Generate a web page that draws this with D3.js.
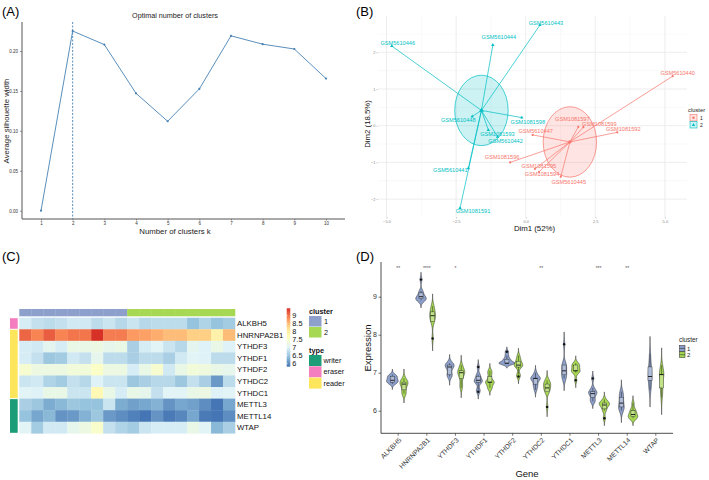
<!DOCTYPE html>
<html><head><meta charset="utf-8">
<script src="https://cdn.jsdelivr.net/npm/d3@7"></script>
<style>body{margin:0;background:#fff} svg{display:block;font-family:"Liberation Sans",Arial,sans-serif}</style>
</head><body>
<svg id="c" width="709" height="480"></svg>
<script>
// ---------- Panel A data ----------
const kValues = [1,2,3,4,5,6,7,8,9,10];
const silhouette = [0, 0.225, 0.208, 0.147, 0.112, 0.1525, 0.219, 0.2085, 0.2025, 0.1655];
const optimalK = 2;
const silTicks = [0, 0.05, 0.10, 0.15, 0.20];

// ---------- Panel B data ----------
const samples = ["GSM5610446","GSM5610444","GSM5610443","GSM5610448","GSM1081598","GSM1081593","GSM5610442","GSM5610441","GSM1081591",
                 "GSM5610440","GSM1081597","GSM1081599","GSM1081592","GSM5610447","GSM1081596","GSM1081595","GSM1081594","GSM5610445"];
const sampleCluster = [2,2,2,2,2,2,2,2,2, 1,1,1,1,1,1,1,1,1];
const dim1 = [-4.81,-1.18,0.51,-1.92,-0.14,-1.34,-1.01,-2.06,-2.36, 5.28,1.89,2.07,3.29,0.25,-0.56,0.33,0.48,1.26];
const dim2 = [2.17,2.20,2.74,0.25,0.22,-0.12,-0.30,-1.16,-2.25, 1.35,-0.03,-0.04,-0.18,-0.25,-1.0,-1.18,-1.26,-1.39];
const dimTicksX = [-5, -2.5, 0, 2.5, 5];
const dimTicksY = [-2, -1, 0, 1, 2];
const ellipseRadius = 0.96;
// label nudges (px) from ggrepel layout
const labelDx = [6,6,6,-14,6,9,8,-18,13, 5,-6,16,6,3,-8,4,3,8];
const labelDy = [-3,-8,-2,4,4,4,4,2,3, -3,-8,-3,-3,-3.5,-5,-3,2,5];

// ---------- Panel C / D data ----------
const genes = ["ALKBH5","HNRNPA2B1","YTHDF3","YTHDF1","YTHDF2","YTHDC2","YTHDC1","METTL3","METTL14","WTAP"];
const geneType = ["eraser","reader","reader","reader","reader","reader","reader","writer","writer","writer"];
const columnCluster = [1,1,1,1,1,1,1,1,1, 2,2,2,2,2,2,2,2,2];
const ALKBH5    = [6.95,6.8,6.75,6.8,6.9,6.9,6.75,6.85,6.7, 6.85,6.7,6.75,6.75,6.75,6.45,6.65,6.45,6.55];
const HNRNPA2B1 = [9.1,8.9,9.15,8.9,9.0,9.0,9.45,8.95,8.95, 8.75,8.7,8.6,8.5,8.5,8.35,8.35,7.9,8.5];
const YTHDF3    = [6.95,6.9,7.1,6.95,7.2,7.2,7.25,7.15,7.2, 6.6,6.95,7.05,6.85,6.7,7.1,7.0,7.2,7.0];
const YTHDF1    = [6.95,6.8,6.5,6.55,6.9,6.8,7.15,6.75,6.75, 6.6,6.75,6.75,6.6,6.9,7.05,7.0,6.75,6.75];
const YTHDF2    = [7.45,7.25,7.25,7.25,7.35,7.35,7.55,7.25,7.25, 6.95,7.2,7.45,6.9,7.2,7.35,7.3,7.2,7.15];
const YTHDC2    = [6.85,6.9,6.65,6.55,6.8,6.7,7.0,6.85,6.85, 6.5,6.6,6.7,6.7,6.5,6.8,6.6,6.1,6.75];
const YTHDC1    = [7.05,7.0,7.2,7.2,6.85,6.85,7.75,7.2,6.95, 7.2,7.15,6.8,7.05,7.05,7.2,7.25,7.0,7.05];
const METTL3    = [6.6,6.5,6.25,6.35,6.5,6.45,6.45,6.85,6.25, 6.15,6.2,6.3,6.05,6.2,6.15,6.0,5.8,6.2];
const METTL14   = [6.45,6.2,6.35,6.05,6.1,6.3,6.5,6.1,6.0, 5.9,5.8,6.05,5.85,5.95,6.2,5.85,5.8,6.0];
const WTAP      = [7.05,6.55,6.9,6.9,7.15,7.25,7.5,6.8,6.65, 6.55,6.85,6.95,6.95,6.95,7.2,7.05,6.35,6.6];
const legendTicks = [6, 6.5, 7, 7.5, 8, 8.5, 9];
const exprTicks = [6, 7, 8, 9];
const sigLabels = ["**","****","*","","","**","","***","**",""];
const sigY = 9.76;

// ---------- styles ----------
const steel = "#4682B4";
const bClusterColor = {1:"#F8766D", 2:"#00BFC4"};
const hClusterColor = {1:"#8DA0CB", 2:"#A6D854"};
const typeColor = {writer:"#1B9E77", eraser:"#F37DBE", reader:"#FEE65C"};
const rdylbu = ["#4575B4","#91BFDB","#E0F3F8","#FFFFBF","#FEE090","#FC8D59","#D73027"];

const svg = d3.select("#c");
function text(g, x, y, s, size, o={}) {
  const t = g.append("text").attr("x", x).attr("y", y).text(s).attr("font-size", size)
    .attr("fill", o.fill || "#000").attr("text-anchor", o.anchor || "start");
  if (o.dy) t.attr("dy", o.dy);
  if (o.weight) t.attr("font-weight", o.weight);
  if (o.transform) t.attr("transform", o.transform);
  return t;
}

// ================= Panel A =================
{
  const g = svg.append("g");
  text(g, 2, 16, "(A)", 13);
  const x = d3.scaleLinear().domain([1,10]).range([41,326]);
  const y = d3.scaleLinear().domain([0,0.2]).range([210.7,51]);
  const xa = g.append("g").attr("transform","translate(0,219)")
    .call(d3.axisBottom(x).tickValues(kValues).tickSize(1.5).tickPadding(1.2).tickFormat(d3.format("d")));
  const ya = g.append("g").attr("transform","translate(22,0)")
    .call(d3.axisLeft(y).tickValues(silTicks).tickSize(2).tickPadding(2).tickFormat(d3.format(".2f")));
  [xa, ya].forEach(a => { a.select(".domain").remove(); a.selectAll("text").attr("font-size",4.5).attr("fill","#333");
    a.selectAll("line").attr("stroke","#555").attr("stroke-width",0.6); });
  g.append("line").attr("x1",22).attr("x2",345).attr("y1",219).attr("y2",219).attr("stroke","#555").attr("stroke-width",1);
  g.append("line").attr("x1",22).attr("x2",22).attr("y1",22).attr("y2",219).attr("stroke","#555").attr("stroke-width",1);
  g.append("line").attr("x1",x(optimalK)).attr("x2",x(optimalK)).attr("y1",22).attr("y2",219)
    .attr("stroke",steel).attr("stroke-width",0.9).attr("stroke-dasharray","2,1.5");
  const pts = kValues.map((k,i)=>[x(k), y(silhouette[i])]);
  g.append("path").attr("d", d3.line()(pts)).attr("fill","none").attr("stroke",steel).attr("stroke-width",0.9);
  g.selectAll("circle.a").data(pts).enter().append("circle").attr("cx",d=>d[0]).attr("cy",d=>d[1]).attr("r",1.1).attr("fill",steel);
  text(g, 175, 18, "Optimal number of clusters", 7.2, {anchor:"middle", fill:"#222"});
  text(g, 175, 234, "Number of clusters k", 7.8, {anchor:"middle", fill:"#222"});
  text(g, 0, 0, "Average silhouette width", 7.8, {anchor:"middle", fill:"#222", transform:"translate(9,121) rotate(-90)"});
}

// ================= Panel B =================
{
  const g = svg.append("g");
  text(g, 356, 16, "(B)", 13);
  const x = d3.scaleLinear().domain([0,2.5]).range([525.7,595.3]);
  const y = d3.scaleLinear().domain([0,1]).range([125.7,89]);
  const X0 = 378, X1 = 687, Y0 = 16, Y1 = 217;
  const grid = g.append("g");
  const minorX = [-3.75,-1.25,1.25,3.75], minorY = [-1.5,-0.5,0.5,1.5,2.5];
  minorX.forEach(v=>grid.append("line").attr("x1",x(v)).attr("x2",x(v)).attr("y1",Y0).attr("y2",Y1).attr("stroke","#F3F3F3").attr("stroke-width",0.5));
  minorY.forEach(v=>grid.append("line").attr("y1",y(v)).attr("y2",y(v)).attr("x1",X0).attr("x2",X1).attr("stroke","#F3F3F3").attr("stroke-width",0.5));
  dimTicksX.forEach(v=>grid.append("line").attr("x1",x(v)).attr("x2",x(v)).attr("y1",Y0).attr("y2",Y1).attr("stroke","#E8E8E8").attr("stroke-width",0.8));
  dimTicksY.forEach(v=>grid.append("line").attr("y1",y(v)).attr("y2",y(v)).attr("x1",X0).attr("x2",X1).attr("stroke","#E8E8E8").attr("stroke-width",0.8));
  const xa = g.append("g").attr("transform",`translate(0,${Y1})`).call(d3.axisBottom(x).tickValues(dimTicksX).tickSize(1.5).tickPadding(1.5).tickFormat(d3.format(".1f")));
  const ya = g.append("g").attr("transform",`translate(${X0},0)`).call(d3.axisLeft(y).tickValues(dimTicksY).tickSize(1.5).tickPadding(1).tickFormat(d3.format("d")));
  [xa, ya].forEach(a => { a.select(".domain").remove(); a.selectAll("text").attr("font-size",4).attr("fill","#888");
    a.selectAll("line").attr("stroke","#999").attr("stroke-width",0.5); });
  text(g, 534.5, 231, "Dim1 (52%)", 7.8, {anchor:"middle", fill:"#111"});
  text(g, 0, 0, "Dim2 (18.5%)", 7.8, {anchor:"middle", fill:"#111", transform:"translate(369.5,124) rotate(-90)"});

  const clusters = [1,2];
  const cent = {};
  clusters.forEach(c => {
    const idx = samples.map((s,i)=>i).filter(i=>sampleCluster[i]===c);
    cent[c] = [d3.mean(idx,i=>dim1[i]), d3.mean(idx,i=>dim2[i])];
  });
  clusters.forEach(c => {
    g.append("ellipse").attr("cx",x(cent[c][0])).attr("cy",y(cent[c][1]))
      .attr("rx", x(ellipseRadius)-x(0)).attr("ry", y(0)-y(ellipseRadius))
      .attr("fill",bClusterColor[c]).attr("fill-opacity",0.2).attr("stroke",bClusterColor[c]).attr("stroke-width",0.7);
  });
  samples.forEach((s,i)=>{
    const c = sampleCluster[i];
    g.append("line").attr("x1",x(cent[c][0])).attr("y1",y(cent[c][1])).attr("x2",x(dim1[i])).attr("y2",y(dim2[i]))
      .attr("stroke",bClusterColor[c]).attr("stroke-width",0.7);
  });
  const tri = d3.symbol().type(d3.symbolTriangle);
  samples.forEach((s,i)=>{
    const c = sampleCluster[i];
    if (c===1) g.append("circle").attr("cx",x(dim1[i])).attr("cy",y(dim2[i])).attr("r",1.1).attr("fill",bClusterColor[c]);
    else g.append("path").attr("d",tri.size(5)()).attr("transform",`translate(${x(dim1[i])},${y(dim2[i])})`).attr("fill",bClusterColor[c]);
    text(g, x(dim1[i])+labelDx[i], y(dim2[i])+labelDy[i], s, 5.6, {anchor:"middle", fill:bClusterColor[c], dy:"0.35em"});
  });
  clusters.forEach(c=>{
    if (c===1) g.append("circle").attr("cx",x(cent[c][0])).attr("cy",y(cent[c][1])).attr("r",1.6).attr("fill",bClusterColor[c]);
    else g.append("path").attr("d",tri.size(10)()).attr("transform",`translate(${x(cent[c][0])},${y(cent[c][1])})`).attr("fill",bClusterColor[c]);
  });
  text(g, 688, 112, "cluster", 5.8, {fill:"#222"});
  clusters.forEach((c,j)=>{
    const yy = 114.5 + j*7;
    g.append("rect").attr("x",690).attr("y",yy).attr("width",7).attr("height",6.5).attr("fill",bClusterColor[c]).attr("fill-opacity",0.2).attr("stroke",bClusterColor[c]).attr("stroke-width",0.6);
    if (c===1) g.append("circle").attr("cx",693.5).attr("cy",yy+3.25).attr("r",1.2).attr("fill",bClusterColor[c]);
    else g.append("path").attr("d",tri.size(5)()).attr("transform",`translate(693.5,${yy+3.4})`).attr("fill",bClusterColor[c]);
    text(g, 700, yy+3.25, String(c), 5, {fill:"#222", dy:"0.35em"});
  });
}

// ================= Panel C =================
const matrix = [ALKBH5, HNRNPA2B1, YTHDF3, YTHDF1, YTHDF2, YTHDC2, YTHDC1, METTL3, METTL14, WTAP];
{
  const g = svg.append("g");
  text(g, 2, 261, "(C)", 13);
  const nCol = columnCluster.length;
  const x = d3.scaleBand().domain(d3.range(nCol)).range([19.3,235]);
  const y = d3.scaleBand().domain(genes).range([317.7,433.3]);
  const all = matrix.flat();
  const lo = d3.min(all), hi = d3.max(all);
  const color = d3.scaleLinear().domain(rdylbu.map((c,i)=>lo + (hi-lo)*i/(rdylbu.length-1))).range(rdylbu).interpolate(d3.interpolateRgb);
  matrix.forEach((row,r)=>row.forEach((v,c)=>{
    g.append("rect").attr("x",x(c)).attr("y",y(genes[r])).attr("width",x.bandwidth()+0.3).attr("height",y.bandwidth()+0.3).attr("fill",color(v));
  }));
  columnCluster.forEach((cl,c)=>g.append("rect").attr("x",x(c)).attr("y",309).attr("width",x.bandwidth()+0.3).attr("height",7.3).attr("fill",hClusterColor[cl]));
  let start = 0;
  for (let r=1; r<=genes.length; r++) {
    if (r===genes.length || geneType[r]!==geneType[start]) {
      g.append("rect").attr("x",10).attr("y",y(genes[start])+0.5).attr("width",7.7).attr("height",y.bandwidth()*(r-start)-1).attr("fill",typeColor[geneType[start]]);
      start = r;
    }
  }
  genes.forEach(gn=>text(g, 237, y(gn)+y.bandwidth()/2, gn, 7.8, {fill:"#111", dy:"0.35em"}));
  const ly = d3.scaleLinear().domain([lo,hi]).range([366.7,308.3]);
  const defs = svg.append("defs");
  const grad = defs.append("linearGradient").attr("id","gr").attr("x1",0).attr("x2",0).attr("y1",1).attr("y2",0);
  rdylbu.forEach((c,i)=>grad.append("stop").attr("offset",i/(rdylbu.length-1)).attr("stop-color",c));
  g.append("rect").attr("x",286.7).attr("y",308.3).attr("width",3.6).attr("height",58.4).attr("fill","url(#gr)");
  legendTicks.forEach(t=>{
    g.append("line").attr("x1",286.7).attr("x2",287.7).attr("y1",ly(t)).attr("y2",ly(t)).attr("stroke","#fff").attr("stroke-width",0.5);
    text(g, 292.3, ly(t), String(t), 7.3, {fill:"#111", dy:"0.35em"});
  });
  text(g, 309, 313.5, "cluster", 7.3, {fill:"#111", weight:"bold"});
  [1,2].forEach((cl,j)=>{
    g.append("rect").attr("x",309).attr("y",316+j*11).attr("width",12.5).attr("height",10.5).attr("fill",hClusterColor[cl]);
    text(g, 324, 321.3+j*11, String(cl), 7.3, {fill:"#111", dy:"0.35em"});
  });
  text(g, 309, 352.5, "type", 7.3, {fill:"#111", weight:"bold"});
  ["writer","eraser","reader"].forEach((t,j)=>{
    g.append("rect").attr("x",309).attr("y",355+j*11.3).attr("width",12.5).attr("height",11).attr("fill",typeColor[t]);
    text(g, 323.5, 360.6+j*11.3, t, 7.3, {fill:"#111", dy:"0.35em"});
  });
}

// ================= Panel D =================
{
  const g = svg.append("g");
  text(g, 356, 261, "(D)", 13);
  const x = d3.scalePoint().domain(genes).range([381,673]).padding(0.6);
  const y = d3.scaleLinear().domain([6,9]).range([410.7,296.7]);
  const dodge = {1:-5.8, 2:5.8};
  const maxW = 16, boxW = 4;
  const groups = [];
  genes.forEach((gn,r)=>[1,2].forEach(cl=>{
    const vals = matrix[r].filter((v,i)=>columnCluster[i]===cl).slice().sort(d3.ascending);
    const q1 = d3.quantileSorted(vals,0.25), q3 = d3.quantileSorted(vals,0.75), med = d3.quantileSorted(vals,0.5);
    const sd = d3.deviation(vals);
    let s = Math.min(sd, (q3-q1)/1.34); if (!(s>0)) s = sd;
    const bw = 0.9*s*Math.pow(vals.length,-0.2);
    const lo = vals[0]-3*bw, hi = vals[vals.length-1]+3*bw;
    const dens = d3.range(121).map(k=>{ const t = lo+(hi-lo)*k/120;
      const d = d3.mean(vals, v=>Math.exp(-0.5*((t-v)/bw)**2)/Math.sqrt(2*Math.PI))/bw; return [t,d]; });
    groups.push({gn, cl, vals, q1, q3, med, dens});
  }));
  const dmax = d3.max(groups, gr=>d3.max(gr.dens, d=>d[1]));
  groups.forEach(gr=>{
    const cx = x(gr.gn)+dodge[gr.cl];
    const a = d3.area().y(d=>y(d[0])).x0(d=>cx - d[1]/dmax*maxW/2).x1(d=>cx + d[1]/dmax*maxW/2);
    g.append("path").attr("d",a(gr.dens)).attr("fill",hClusterColor[gr.cl]).attr("stroke","#222").attr("stroke-width",0.5);
    const iqr = gr.q3-gr.q1;
    const inside = gr.vals.filter(v=>v>=gr.q1-1.5*iqr && v<=gr.q3+1.5*iqr);
    const wlo = d3.min(inside), whi = d3.max(inside);
    g.append("line").attr("x1",cx).attr("x2",cx).attr("y1",y(whi)).attr("y2",y(gr.q3)).attr("stroke","#222").attr("stroke-width",0.5);
    g.append("line").attr("x1",cx).attr("x2",cx).attr("y1",y(gr.q1)).attr("y2",y(wlo)).attr("stroke","#222").attr("stroke-width",0.5);
    g.append("rect").attr("x",cx-boxW/2).attr("y",y(gr.q3)).attr("width",boxW).attr("height",Math.max(0.3,y(gr.q1)-y(gr.q3)))
      .attr("fill",hClusterColor[gr.cl]).attr("stroke","#222").attr("stroke-width",0.5);
    g.append("rect").attr("x",cx-boxW/2).attr("y",y(gr.q3)).attr("width",boxW).attr("height",Math.max(0.3,y(gr.q1)-y(gr.q3)))
      .attr("fill","#fff").attr("fill-opacity",0.3);
    g.append("line").attr("x1",cx-boxW/2).attr("x2",cx+boxW/2).attr("y1",y(gr.med)).attr("y2",y(gr.med)).attr("stroke","#111").attr("stroke-width",0.9);
    gr.vals.filter(v=>v<wlo||v>whi).forEach(v=>g.append("circle").attr("cx",cx).attr("cy",y(v)).attr("r",1.2).attr("fill","#111"));
  });
  g.append("line").attr("x1",381).attr("x2",381).attr("y1",262).attr("y2",433.3).attr("stroke","#222").attr("stroke-width",0.8);
  g.append("line").attr("x1",381).attr("x2",673).attr("y1",433.3).attr("y2",433.3).attr("stroke","#222").attr("stroke-width",0.8);
  const ya = g.append("g").attr("transform","translate(381,0)").call(d3.axisLeft(y).tickValues(exprTicks).tickSize(2.5).tickPadding(1.5).tickFormat(d3.format("d")));
  ya.select(".domain").remove(); ya.selectAll("text").attr("font-size",7).attr("fill","#333"); ya.selectAll("line").attr("stroke","#222").attr("stroke-width",0.6);
  genes.forEach(gn=>{
    g.append("line").attr("x1",x(gn)).attr("x2",x(gn)).attr("y1",433.3).attr("y2",435.8).attr("stroke","#222").attr("stroke-width",0.6);
    text(g, 0, 0, gn, 6.8, {anchor:"end", fill:"#333", transform:`translate(${x(gn)+2},${439}) rotate(-45)`, dy:"0.35em"});
  });
  sigLabels.forEach((s,i)=>{ if (s) text(g, x(genes[i]), y(sigY), s, 5, {anchor:"middle", fill:"#555", dy:"0.35em"}); });
  text(g, 0, 0, "Expression", 9.5, {anchor:"middle", fill:"#111", transform:"translate(371,348) rotate(-90)"});
  text(g, 527, 477, "Gene", 9.5, {anchor:"middle", fill:"#111"});
  text(g, 679, 341.5, "cluster", 6.3, {fill:"#222"});
  [1,2].forEach((cl,j)=>{
    const yy = 345.5 + j*6.3;
    g.append("rect").attr("x",679.5).attr("y",yy).attr("width",5.5).attr("height",5.8).attr("fill",hClusterColor[cl]).attr("stroke","#222").attr("stroke-width",0.5);
    g.append("line").attr("x1",679.5).attr("x2",685).attr("y1",yy+2.9).attr("y2",yy+2.9).attr("stroke","#222").attr("stroke-width",0.5);
    text(g, 687, yy+2.9, String(cl), 6, {fill:"#222", dy:"0.35em"});
  });
}
</script>
</body></html>
